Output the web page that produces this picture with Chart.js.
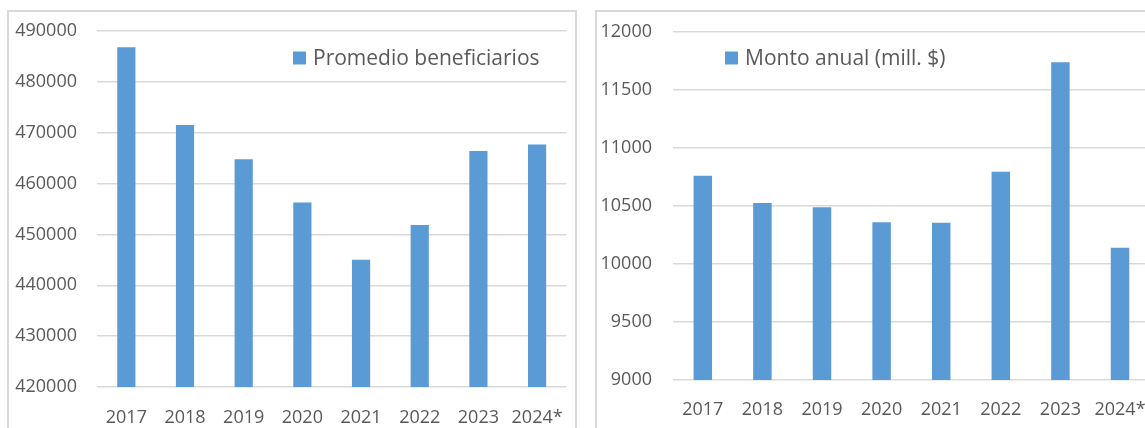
<!DOCTYPE html>
<html>
<head>
<meta charset="utf-8">
<script src="https://cdn.jsdelivr.net/npm/chart.js@4.4.1/dist/chart.umd.min.js"></script>
<style>
  html, body { margin: 0; padding: 0; background: #fff; overflow: hidden; width: 1145px; height: 428px; }
  .panel { position: absolute; border: 2px solid #d9d9d9; box-sizing: border-box; background: #fff; }
  #panelLeft { left: 7px; top: 10px; width: 570px; height: 440px; }
  #panelRight { left: 595px; top: 10px; width: 600px; height: 440px; }
  canvas { position: absolute; left: 0; top: 0; }
</style>
</head>
<body>
<div class="panel" id="panelLeft"><canvas id="chartBenef" width="566" height="416"></canvas></div>
<div class="panel" id="panelRight"><canvas id="chartMonto" width="560" height="416"></canvas></div>
<script>
// datos
const anios = ['2017', '2018', '2019', '2020', '2021', '2022', '2023', '2024*'];
const promedioBeneficiarios = [486800, 471500, 464800, 456300, 445000, 451850, 466400, 467700];
const montoAnual = [10760, 10525, 10490, 10360, 10355, 10795, 11740, 10140];

const azul = '#5B9BD5';
const gris = '#595959';
const FUENTE = '"Open Sans", "Noto Sans", sans-serif';

// leyenda dibujada dentro del area (como en Excel)
const leyendaPlugin = {
    id: 'leyendaInterna',
    afterDraw(chart, args, opts) {
        const ctx = chart.ctx;
        const ds = chart.data.datasets[0];
        ctx.save();
        ctx.fillStyle = ds.backgroundColor;
        ctx.fillRect(opts.x, opts.y - 6.5, 13, 13);
        ctx.fillStyle = gris;
        ctx.font = '21px ' + FUENTE;
        ctx.textBaseline = 'middle';
        ctx.textAlign = 'left';
        ctx.fillText(ds.label, opts.x + 20, opts.y + 1);
        ctx.restore();
    }
};

function crearGrafico(id, etiqueta, valores, cfg) {
    const canvas = document.getElementById(id);
    if (!canvas) {
        console.error('Canvas no encontrado: ' + id);
        return;
    }
    new Chart(canvas.getContext('2d'), {
        type: 'bar',
        data: {
            labels: anios,
            datasets: [{
                label: etiqueta,
                data: valores,
                backgroundColor: azul,
                borderWidth: 0,
                barPercentage: 1,
                categoryPercentage: 0.31
            }]
        },
        options: {
            responsive: false,
            animation: false,
            layout: { padding: { top: cfg.top, right: cfg.right, left: 0, bottom: 0 } },
            plugins: {
                legend: { display: false },
                tooltip: { enabled: false },
                leyendaInterna: { x: cfg.legX, y: cfg.legY }
            },
            scales: {
                x: {
                    grid: { display: false },
                    border: { display: false },
                    ticks: { color: gris, font: { family: FUENTE, size: 18 }, padding: cfg.xPad, maxRotation: 0 },
                    afterFit: function(scale) { scale.height = cfg.xHeight; }
                },
                y: {
                    min: cfg.min,
                    max: cfg.max,
                    grid: { color: '#d9d9d9', lineWidth: 1.5, drawTicks: false },
                    border: { display: false },
                    ticks: {
                        stepSize: cfg.step,
                        color: gris,
                        font: { family: FUENTE, size: 18 },
                        padding: cfg.yPad,
                        callback: function(v) { return String(v); }
                    },
                    afterFit: function(scale) {
                        scale.width = cfg.yWidth;
                        // que el padding de las etiquetas no empuje el area
                        scale.paddingTop = 0;
                        scale.paddingBottom = 0;
                    }
                }
            }
        },
        plugins: [leyendaPlugin]
    });
}

crearGrafico('chartBenef', 'Promedio beneficiarios', promedioBeneficiarios, {
    min: 420000, max: 490000, step: 10000,
    top: 19, right: 6, yWidth: 88, yPad: 20, xHeight: 41, xPad: 12,
    legX: 284, legY: 46
});

crearGrafico('chartMonto', 'Monto anual (mill. $)', montoAnual, {
    min: 9000, max: 12000, step: 500,
    top: 20, right: 7, yWidth: 76, yPad: 21, xHeight: 48, xPad: 11,
    legX: 128, legY: 46
});
</script>
</body>
</html>
